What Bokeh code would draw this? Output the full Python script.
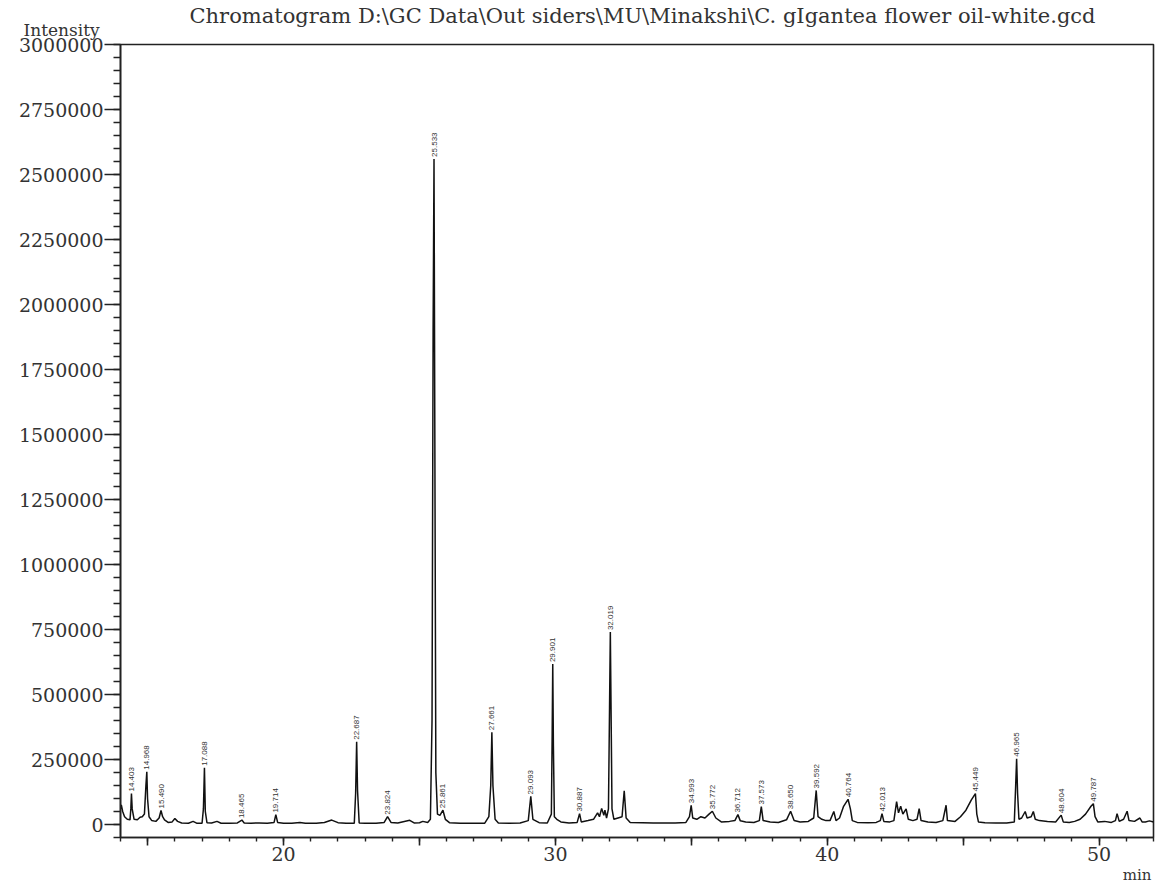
import numpy as np
from bokeh.plotting import figure
from bokeh.models import FixedTicker, BasicTickFormatter, Title, Range1d
from bokeh.embed import file_html
from bokeh.resources import INLINE
from bokeh.core.properties import value

# ---- chromatogram trace (retention time in min, intensity) ----
trace_time = [
    14.00, 14.03, 14.08, 14.15, 14.25, 14.35, 14.38, 14.403, 14.43, 14.50,
    14.62, 14.72, 14.80, 14.88, 14.935, 14.968, 14.995, 15.05, 15.15, 15.30,
    15.42, 15.49, 15.55, 15.62, 15.75, 15.90, 16.00, 16.10, 16.25, 16.50,
    16.67, 16.80, 17.00, 17.05, 17.088, 17.12, 17.18, 17.35, 17.55, 17.70,
    18.00, 18.30, 18.465, 18.55, 18.80, 19.10, 19.40, 19.65, 19.714, 19.78,
    20.00, 20.30, 20.60, 20.80, 21.20, 21.50, 21.77, 22.00, 22.30, 22.60,
    22.65, 22.687, 22.72, 22.78, 23.00, 23.40, 23.70, 23.824, 23.95, 24.20,
    24.64, 24.80, 25.00, 25.12, 25.30, 25.40, 25.46, 25.50, 25.533, 25.56,
    25.60, 25.66, 25.75, 25.861, 25.95, 26.10, 26.50, 27.00, 27.40, 27.55,
    27.62, 27.661, 27.70, 27.78, 27.90, 28.30, 28.70, 29.00, 29.093, 29.17,
    29.40, 29.70, 29.85, 29.88, 29.901, 29.925, 29.96, 30.05, 30.20, 30.50,
    30.80, 30.887, 30.95, 31.20, 31.40, 31.55, 31.62, 31.70, 31.78, 31.82,
    31.88, 31.95, 31.99, 32.019, 32.045, 32.08, 32.15, 32.30, 32.45, 32.53,
    32.60, 32.75, 33.20, 33.60, 34.00, 34.40, 34.80, 34.93, 34.993, 35.05,
    35.20, 35.35, 35.50, 35.65, 35.772, 35.90, 36.10, 36.40, 36.60, 36.712,
    36.80, 37.00, 37.30, 37.50, 37.573, 37.64, 37.90, 38.20, 38.50, 38.650,
    38.78, 39.00, 39.30, 39.50, 39.592, 39.66, 39.80, 39.95, 40.10, 40.24,
    40.32, 40.45, 40.60, 40.764, 40.85, 40.92, 41.10, 41.50, 41.80, 41.95,
    42.013, 42.08, 42.30, 42.45, 42.55, 42.62, 42.70, 42.78, 42.90, 42.98,
    43.15, 43.30, 43.38, 43.45, 43.70, 44.00, 44.25, 44.37, 44.42, 44.70,
    44.90, 45.10, 45.30, 45.449, 45.50, 45.56, 45.80, 46.20, 46.60, 46.88,
    46.93, 46.965, 47.00, 47.05, 47.15, 47.28, 47.35, 47.50, 47.58, 47.65,
    47.80, 48.10, 48.40, 48.604, 48.68, 48.90, 49.10, 49.30, 49.50, 49.70,
    49.787, 49.85, 49.95, 50.20, 50.45, 50.60, 50.66, 50.74, 50.90, 51.03,
    51.10, 51.30, 51.50, 51.58, 51.70, 51.85, 52.00,
]
trace_intensity = [
    60000, 75000, 50000, 30000, 20000, 18000, 60000, 119000, 60000, 20000,
    18000, 28000, 30000, 40000, 150000, 203000, 100000, 30000, 15000, 12000,
    25000, 54000, 30000, 18000, 8000, 10000, 23000, 12000, 6000, 5000,
    12000, 5000, 5000, 60000, 218000, 50000, 7000, 6000, 12000, 5000,
    5000, 6000, 17000, 6000, 5000, 6000, 5000, 8000, 38000, 8000,
    5000, 5000, 8000, 5000, 5000, 8000, 17000, 7000, 5000, 5000,
    120000, 318000, 130000, 6000, 5000, 5000, 8000, 30000, 8000, 6000,
    16000, 6000, 7000, 12000, 8000, 20000, 400000, 1900000, 2560000, 1600000,
    200000, 40000, 35000, 55000, 20000, 7000, 5000, 5000, 5000, 30000,
    150000, 355000, 150000, 20000, 6000, 5000, 6000, 15000, 108000, 20000,
    7000, 6000, 40000, 350000, 617000, 300000, 30000, 20000, 10000, 6000,
    8000, 42000, 10000, 15000, 20000, 45000, 30000, 62000, 35000, 55000,
    25000, 60000, 450000, 740000, 450000, 60000, 20000, 25000, 30000, 130000,
    25000, 8000, 7000, 6000, 6000, 6000, 8000, 30000, 74000, 25000,
    20000, 30000, 25000, 40000, 51000, 25000, 10000, 12000, 15000, 38000,
    14000, 10000, 8000, 15000, 69000, 15000, 10000, 8000, 18000, 51000,
    15000, 10000, 12000, 25000, 131000, 30000, 20000, 15000, 15000, 50000,
    15000, 25000, 70000, 97000, 60000, 15000, 8000, 7000, 8000, 15000,
    42000, 12000, 10000, 15000, 88000, 45000, 70000, 40000, 60000, 20000,
    15000, 20000, 61000, 15000, 10000, 8000, 15000, 74000, 15000, 12000,
    30000, 55000, 95000, 119000, 40000, 10000, 7000, 6000, 6000, 10000,
    150000, 253000, 120000, 20000, 25000, 50000, 25000, 30000, 50000, 20000,
    15000, 12000, 10000, 36000, 10000, 8000, 12000, 20000, 40000, 70000,
    80000, 30000, 10000, 12000, 8000, 15000, 42000, 12000, 20000, 51000,
    15000, 12000, 25000, 10000, 10000, 14000, 10000,
]

# ---- labelled peaks ----
peak_rt = [14.403, 14.968, 15.490, 17.088, 18.465, 19.714, 22.687, 23.824,
           25.533, 25.861, 27.661, 29.093, 29.901, 30.887, 32.019, 34.993,
           35.772, 36.712, 37.573, 38.650, 39.592, 40.764, 42.013, 45.449,
           46.965, 48.604, 49.787]
peak_height = [119000, 203000, 54000, 218000, 17000, 38000, 318000, 30000,
               2560000, 55000, 355000, 108000, 617000, 42000, 740000, 74000,
               51000, 38000, 69000, 51000, 131000, 97000, 42000, 119000,
               253000, 36000, 80000]
peak_label = ["%.3f" % t for t in peak_rt]

# ---- axes ----
x_ticks = [15, 20, 25, 30, 35, 40, 45, 50]
x_minor = list(range(14, 53))
x_labels = {15: "", 25: "", 35: "", 45: ""}
y_ticks = [0, 250000, 500000, 750000, 1000000, 1250000, 1500000, 1750000,
           2000000, 2250000, 2500000, 2750000, 3000000]
y_minor = list(range(-50000, 3000001, 50000))

title_text = "Chromatogram D:\\GC Data\\Out siders\\MU\\Minakshi\\C. gIgantea flower oil-white.gcd"

SERIF = "DejaVu Serif"
INK = "#222222"
TXT = "#333333"

p = figure(width=1156, height=883, output_backend="svg", toolbar_location=None,
           x_range=Range1d(14, 52), y_range=Range1d(-50000, 3000000),
           min_border_left=120, min_border_right=3, min_border_top=44,
           min_border_bottom=44)
p.grid.visible = False
p.outline_line_color = INK
p.outline_line_width = 1.6
p.background_fill_color = "white"
p.border_fill_color = "white"

p.xaxis.ticker = FixedTicker(ticks=x_ticks, minor_ticks=x_minor)
p.xaxis.major_label_overrides = x_labels
p.yaxis.ticker = FixedTicker(ticks=y_ticks, minor_ticks=y_minor)
p.yaxis.formatter = BasicTickFormatter(use_scientific=False)

for ax in (p.xaxis[0], p.yaxis[0]):
    ax.axis_line_color = INK
    ax.axis_line_width = 1.6
    ax.major_tick_line_color = INK
    ax.major_tick_line_width = 1.6
    ax.minor_tick_line_color = INK
    ax.minor_tick_line_width = 1.4
    ax.major_tick_in = 0
    ax.minor_tick_in = 0
    ax.major_label_text_font = SERIF
    ax.major_label_text_font_size = "19px"
    ax.major_label_text_color = TXT

p.yaxis.major_tick_out = 16
p.yaxis.minor_tick_out = 7
p.yaxis.major_label_standoff = 1
p.xaxis.major_tick_out = 8
p.xaxis.minor_tick_out = 4
p.xaxis.major_label_standoff = 1

p.line(trace_time, trace_intensity, line_color="#111111", line_width=1.5)

p.text(x=peak_rt, y=peak_height, text=peak_label, angle=np.pi / 2,
       text_font=value("Liberation Sans"), text_font_size="8px",
       text_align="left", text_baseline="middle", y_offset=-2,
       text_color="#333333")

# titles: first added sits closest to the frame
p.add_layout(Title(text="Intensity", align="left", offset=-97, standoff=10,
                   text_font=SERIF, text_font_size="17px",
                   text_font_style="normal", text_color=TXT,
                   text_line_height=1.0), "above")
p.add_layout(Title(text=title_text, align="left", offset=69, standoff=-30,
                   text_font=SERIF, text_font_size="21px",
                   text_font_style="normal", text_color=TXT,
                   text_line_height=1.0), "above")
p.add_layout(Title(text="min", align="right", offset=2, standoff=0,
                   text_font=SERIF, text_font_size="15px",
                   text_font_style="normal", text_color=TXT,
                   text_line_height=0.7), "below")

open("out.html", "w").write(file_html(p, INLINE))
